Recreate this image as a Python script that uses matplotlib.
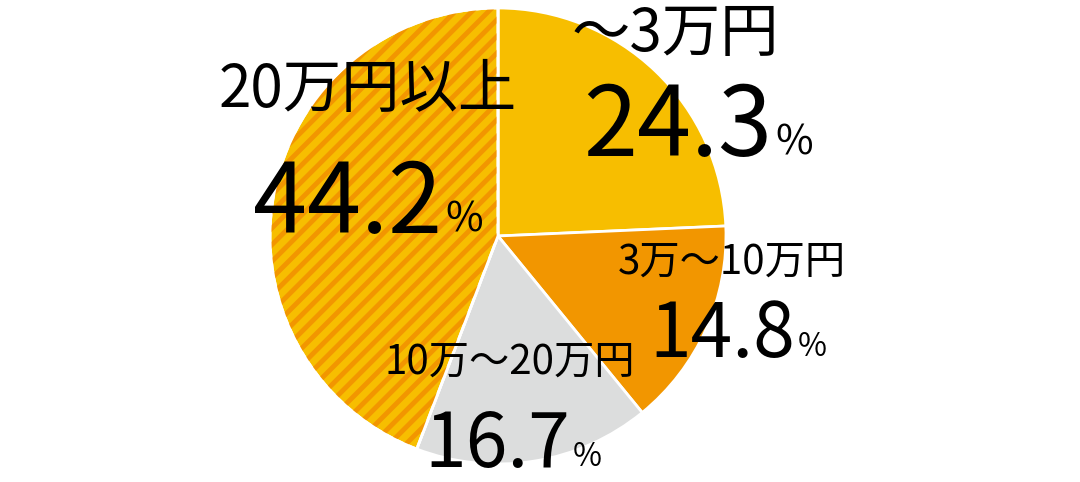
import matplotlib.pyplot as plt
from matplotlib.patches import Wedge

plt.rcParams['font.family'] = ['Noto Sans CJK JP', 'DejaVu Sans']
plt.rcParams['hatch.linewidth'] = 3.5

labels = ['～3万円', '3万～10万円', '10万～20万円', '20万円以上']
values = [24.3, 14.8, 16.7, 44.2]
colors = ['#F7BE00', '#F29600', '#DCDDDD', '#F7BE00']

fig = plt.figure(figsize=(10.8, 4.82), dpi=100)
ax = fig.add_axes([0, 0, 1, 1])

# y axis points down, so start at -90 and go counterclockwise in data terms
wedges, _ = ax.pie(values, colors=colors, startangle=-90, counterclock=True,
                   center=(498, 236), radius=228,
                   wedgeprops=dict(edgecolor='white', linewidth=2))
ax.set_xlim(0, 1080)
ax.set_ylim(482, 0)
ax.set_aspect('equal')
ax.axis('off')

# stripes on the last slice
w = wedges[3]
ax.add_patch(Wedge(w.center, w.r, w.theta1, w.theta2, facecolor='none',
                   edgecolor='#F29600', linewidth=0, hatch='//', zorder=3))
ax.add_patch(Wedge(w.center, w.r, w.theta1, w.theta2, facecolor='none',
                   edgecolor='white', linewidth=2, zorder=4))

# (label x, label y, label size, pct right x, pct y, pct size)
spots = [(675, 35, 42, 772, 128, 70),
         (732, 262, 29, 795, 335, 54),
         (510, 362, 29, 570, 445, 54),
         (368, 90, 42, 442, 205, 70)]
for lab, v, (lx, ly, ls, px, py, ps) in zip(labels, values, spots):
    ax.text(lx, ly, lab, ha='center', va='center', fontsize=ls, color='black', zorder=5)
    ax.text(px, py, f'{v}', ha='right', va='center', fontsize=ps,
            color='black', zorder=5)
    ax.text(px + 3, py + ps * 0.22, '%', ha='left', va='center',
            fontsize=ps * 0.42, color='black', zorder=5)

fig.savefig('out.png', dpi=100)
